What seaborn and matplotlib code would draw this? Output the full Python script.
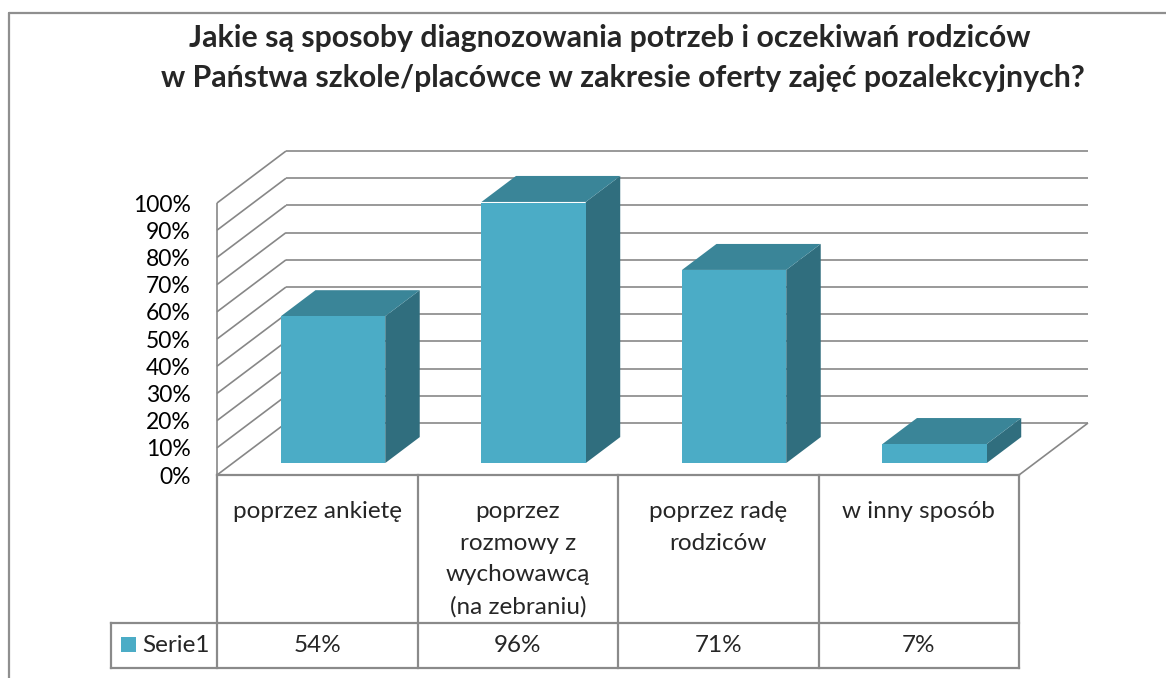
import numpy as np
import matplotlib
matplotlib.use("Agg")
import matplotlib.pyplot as plt
from matplotlib.patches import Polygon, Rectangle
from matplotlib.transforms import Affine2D
import seaborn as sns

# data
categories = ["poprzez ankietę",
              "poprzez\nrozmowy z\nwychowawcą\n(na zebraniu)",
              "poprzez radę\nrodziców",
              "w inny sposób"]
values = [0.54, 0.96, 0.71, 0.07]
value_labels = ["54%", "96%", "71%", "7%"]
series_name = "Serie1"
yticks = np.arange(0, 1.01, 0.1)
ytick_labels = [f"{int(round(t * 100))}%" for t in yticks]
title_lines = ["Jakie są sposoby diagnozowania potrzeb i oczekiwań rodziców",
               "w Państwa szkole/placówce w zakresie oferty zajęć pozalekcyjnych?"]

# colours
FRONT = "#4BACC6"
TOP = "#3A8598"
SIDE = "#306E7E"
GRID = "#878787"
TABLE = "#8A8A8A"

# oblique depth (data units) and bar depth range
DX, DY = 0.344, 0.191
Z0, Z1 = 0.23, 0.73
BAR_W = 0.52

sns.set_theme(style="white")
plt.rcParams["font.family"] = ["Lato", "DejaVu Sans"]

W, H = 1166, 678
fig = plt.figure(figsize=(W / 100, H / 100), dpi=100)
fig.patch.set_facecolor("white")
ax = fig.add_axes([217 / W, (H - 475) / H, (1019 - 217) / W, 272 / H])
ax.set_facecolor("none")

sns.barplot(x=categories, y=values, color=FRONT, saturation=1, width=BAR_W,
            linewidth=0, ax=ax, zorder=5)

shift = Affine2D().translate(Z0 * DX, Z0 * DY) + ax.transData
for p in ax.patches:
    x0 = p.get_x()
    x1 = x0 + p.get_width()
    v = p.get_height()
    p.set_transform(shift)
    top = [(x0 + Z0 * DX, v + Z0 * DY), (x1 + Z0 * DX, v + Z0 * DY),
           (x1 + Z1 * DX, v + Z1 * DY), (x0 + Z1 * DX, v + Z1 * DY)]
    side = [(x1 + Z0 * DX, Z0 * DY), (x1 + Z1 * DX, Z1 * DY),
            (x1 + Z1 * DX, v + Z1 * DY), (x1 + Z0 * DX, v + Z0 * DY)]
    ax.add_patch(Polygon(side, closed=True, fc=SIDE, ec="none", zorder=4, clip_on=False))
    ax.add_patch(Polygon(top, closed=True, fc=TOP, ec="none", zorder=4, clip_on=False))

ax.set_xlim(-0.5, 3.5)
ax.set_ylim(0, 1)
ax.set_xticks([])
ax.set_yticks(yticks)
ax.set_yticklabels(ytick_labels, fontsize=16.5, color="black")
ax.tick_params(axis="y", length=0, pad=19)
ax.set_xlabel("")
ax.set_ylabel("")
for s in ax.spines.values():
    s.set_visible(False)

# walls: back gridlines, left wall diagonals, floor
gkw = dict(color=GRID, lw=1.2, clip_on=False, zorder=1, solid_capstyle="butt")
for t in yticks:
    ax.plot([-0.5 + DX, 3.5 + DX], [t + DY, t + DY], **gkw)
    ax.plot([-0.5, -0.5 + DX], [t, t + DY], **gkw)
ax.plot([-0.5, -0.5], [0, 1], **gkw)
ax.plot([3.5, 3.5 + DX], [0, DY], **gkw)

# data table under the chart
tkw = dict(color=TABLE, lw=1.6, clip_on=False, zorder=2, solid_capstyle="projecting")
y_top, y_mid, y_bot = 0.0, -0.544, -0.71
x_leg = -1.029
ax.plot([-0.5, 3.5], [y_top, y_top], **tkw)
ax.plot([x_leg, 3.5], [y_mid, y_mid], **tkw)
ax.plot([x_leg, 3.5], [y_bot, y_bot], **tkw)
for xb in np.arange(-0.5, 3.6, 1.0):
    ax.plot([xb, xb], [y_top, y_bot], **tkw)
ax.plot([x_leg, x_leg], [y_mid, y_bot], **tkw)

for i, (cat, lab) in enumerate(zip(categories, value_labels)):
    ax.text(i, -0.097, cat, ha="center", va="top", fontsize=17.5,
            linespacing=1.62, clip_on=False)
    ax.text(i, (y_mid + y_bot) / 2, lab, ha="center", va="center",
            fontsize=17.5, clip_on=False)

# legend key inside the table
ax.add_patch(Rectangle((x_leg + 0.05, -0.652), 0.075, 0.055, fc=FRONT,
                       ec="none", clip_on=False))
ax.text(x_leg + 0.155, (y_mid + y_bot) / 2, series_name, ha="left",
        va="center", fontsize=17.5, clip_on=False)

# title
fig.text(610 / W, 1 - 38 / H, title_lines[0], ha="center", va="center",
         fontsize=21.8, fontweight="bold")
fig.text(623 / W, 1 - 78 / H, title_lines[1], ha="center", va="center",
         fontsize=21.8, fontweight="bold")

# outer chart frame (runs off the right and bottom)
fig.add_artist(plt.Line2D([9 / W, 9 / W], [0, 1 - 13 / H], color="#8F8F8F",
                          lw=1.6, transform=fig.transFigure))
fig.add_artist(plt.Line2D([9 / W, 1], [1 - 13 / H, 1 - 13 / H], color="#8F8F8F",
                          lw=1.6, transform=fig.transFigure))

fig.savefig("out.png", dpi=100)
